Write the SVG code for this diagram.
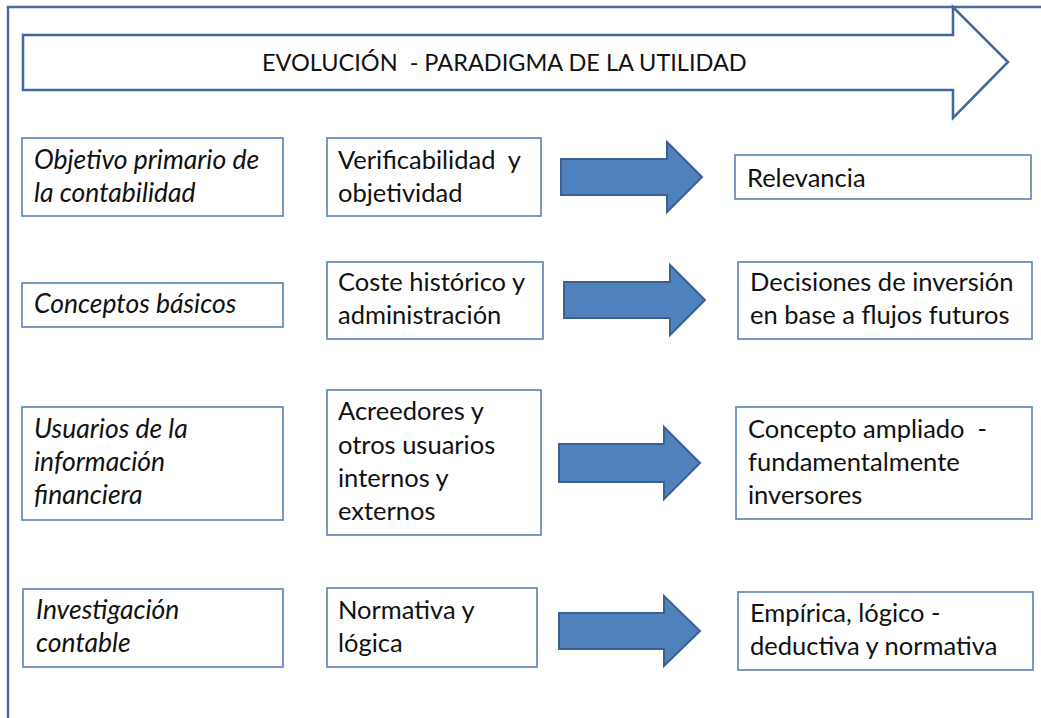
<svg xmlns="http://www.w3.org/2000/svg" width="1041" height="718" viewBox="0 0 1041 718">
<style>
.box{fill:#fff;stroke:#5b80b5;stroke-width:1.6}
.t{font-family:Lato,"Open Sans","Noto Sans",sans-serif;font-size:25.5px;fill:#111;white-space:pre}
.i{font-style:italic;font-size:26.5px}
.h{font-size:23.5px}
.arr{fill:#4f81bd;stroke:#3b6091;stroke-width:2;stroke-linejoin:miter}
.frame{fill:none;stroke:#4a6d9c;stroke-width:2.5}
</style>
<rect width="1041" height="718" fill="#fff"/>
<path class="frame" d="M8,718 V7 H1041"/>
<g id="banner">
<polygon points="23,35 953,35 953,7 1008,62 953,118 953,90 23,90" fill="#fff" stroke="#41689a" stroke-width="2.5"/>
<text class="t h" x="262" y="71">EVOLUCIÓN  - PARADIGMA DE LA UTILIDAD</text>
</g>
<g id="r1-left"><rect class="box" x="22" y="138" width="261" height="78"/><text class="t i" x="34" y="169">Objetivo primario de</text><text class="t i" x="34" y="202">la contabilidad</text></g>
<g id="r1-mid"><rect class="box" x="327" y="138" width="214" height="78"/><text class="t" x="338" y="169">Verificabilidad  y</text><text class="t" x="338" y="202">objetividad</text></g>
<g id="r1-right"><rect class="box" x="735" y="155" width="296" height="44"/><text class="t" x="747" y="187">Relevancia</text></g>
<g id="r2-left"><rect class="box" x="22" y="283" width="261" height="44"/><text class="t i" x="34" y="313">Conceptos básicos</text></g>
<g id="r2-mid"><rect class="box" x="327" y="262" width="216" height="77"/><text class="t" x="338" y="291">Coste histórico y</text><text class="t" x="338" y="324">administración</text></g>
<g id="r2-right"><rect class="box" x="738" y="262" width="294" height="77"/><text class="t" x="750" y="291">Decisiones de inversión</text><text class="t" x="750" y="324">en base a flujos futuros</text></g>
<g id="r3-left"><rect class="box" x="22" y="407" width="261" height="113"/><text class="t i" x="34" y="438">Usuarios de la</text><text class="t i" x="34" y="471">información</text><text class="t i" x="34" y="504">financiera</text></g>
<g id="r3-mid"><rect class="box" x="327" y="390" width="214" height="145"/><text class="t" x="338" y="420">Acreedores y</text><text class="t" x="338" y="454">otros usuarios</text><text class="t" x="338" y="487">internos y</text><text class="t" x="338" y="520">externos</text></g>
<g id="r3-right"><rect class="box" x="736" y="407" width="296" height="112"/><text class="t" x="748" y="438">Concepto ampliado  -</text><text class="t" x="748" y="471">fundamentalmente</text><text class="t" x="748" y="504">inversores</text></g>
<g id="r4-left"><rect class="box" x="23" y="589" width="260" height="78"/><text class="t i" x="36" y="619">Investigación</text><text class="t i" x="36" y="652">contable</text></g>
<g id="r4-mid"><rect class="box" x="327" y="588" width="210" height="79"/><text class="t" x="338" y="619">Normativa y</text><text class="t" x="338" y="652">lógica</text></g>
<g id="r4-right"><rect class="box" x="738" y="592" width="295" height="78"/><text class="t" x="750" y="622">Empírica, lógico -</text><text class="t" x="750" y="655">deductiva y normativa</text></g>
<g id="connectors">
<polygon class="arr" points="561,159 667,159 667,142 702,177 667,212 667,195 561,195"/>
<polygon class="arr" points="564,282 670,282 670,265 705,300 670,335 670,318 564,318"/>
<polygon class="arr" points="559,444 664,444 664,427 700,463 664,499 664,482 559,482"/>
<polygon class="arr" points="559,613 664,613 664,596 700,631 664,666 664,649 559,649"/>
</g>
</svg>
